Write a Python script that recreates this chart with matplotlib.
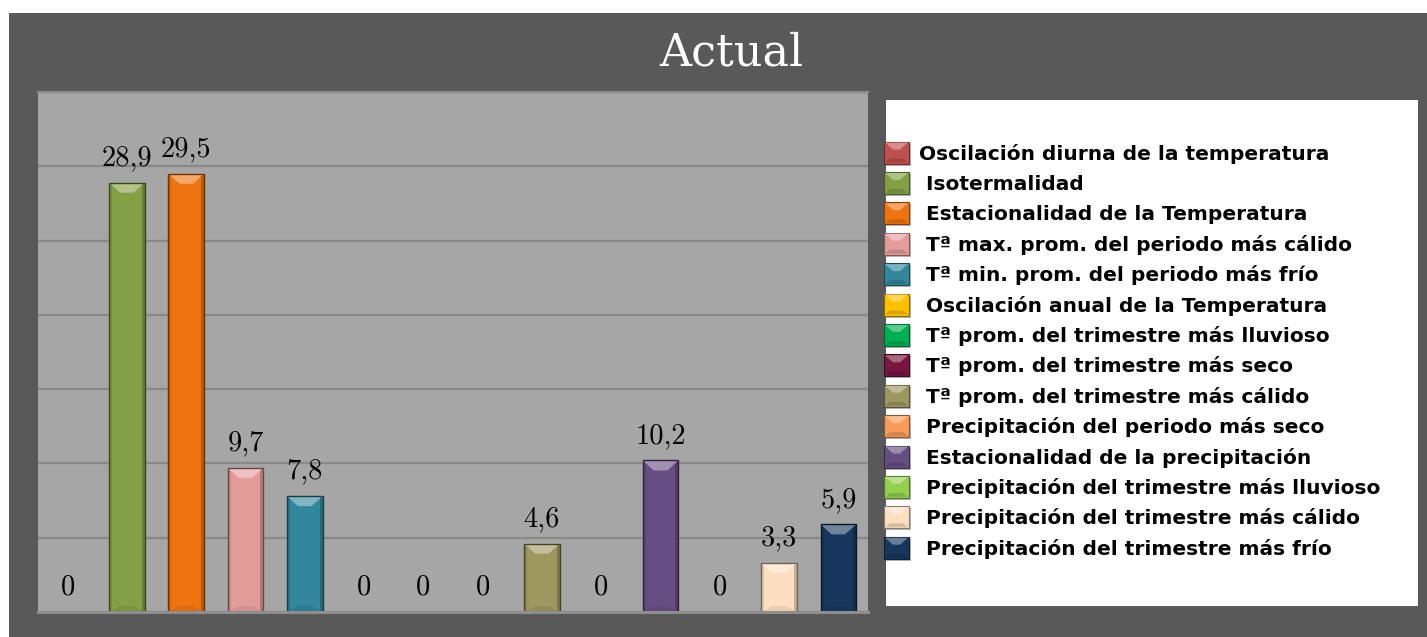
import matplotlib
matplotlib.use("Agg")
import matplotlib.pyplot as plt
import matplotlib.colors as mcolors
from matplotlib.patches import Rectangle, Polygon
import numpy as np

# ---- data -------------------------------------------------------------
labels = [
    "Oscilación diurna de la temperatura",
    " Isotermalidad",
    " Estacionalidad de la Temperatura",
    " Tª max. prom. del periodo más cálido",
    " Tª min. prom. del periodo más frío",
    " Oscilación anual de la Temperatura",
    " Tª prom. del trimestre más lluvioso",
    " Tª prom. del trimestre más seco",
    " Tª prom. del trimestre más cálido",
    " Precipitación del periodo más seco",
    " Estacionalidad de la precipitación",
    " Precipitación del trimestre más lluvioso",
    " Precipitación del trimestre más cálido",
    " Precipitación del trimestre más frío",
]
values = [0, 28.9, 29.5, 9.7, 7.8, 0, 0, 0, 4.6, 0, 10.2, 0, 3.3, 5.9]
colors = [
    "#C0504D", "#83A045", "#EE7411", "#E49C9B", "#33879D", "#FFC000",
    "#00B050", "#77163F", "#9E9760", "#F89A5A", "#674E82", "#92D050",
    "#FCDFC0", "#17375E",
]
title = "Actual"

# ---- helpers ----------------------------------------------------------
W, H = 1427, 637


def mix(c, other, t):
    a = np.array(mcolors.to_rgb(c))
    b = np.array(mcolors.to_rgb(other))
    return tuple(a * (1 - t) + b * t)


def fx(px):
    return px / W


def fy(py_from_top):
    return 1 - py_from_top / H


fig = plt.figure(figsize=(W / 100, H / 100), dpi=100)
fig.patch.set_facecolor("white")
fig.patches.append(Rectangle((fx(9), 0), 1 - fx(9), 1 - 13 / H,
                             transform=fig.transFigure, facecolor="#595959",
                             edgecolor="none", zorder=-2))

# ---- plot area ----------------------------------------------------------
ax = fig.add_axes([fx(38), fy(612), 830 / W, 520 / H])
ax.set_zorder(1)
ax.set_facecolor("#A6A6A6")
ax.set_xlim(-0.5, len(values) - 0.5)
ax.set_ylim(0, 35)
ax.set_yticks(np.arange(0, 36, 5))
ax.set_xticks([])
ax.tick_params(left=False, bottom=False, labelleft=False, labelbottom=False)
ax.yaxis.grid(True, color="#898989", linewidth=1.6)
ax.set_axisbelow(True)
for side in ("left", "right"):
    ax.spines[side].set_visible(False)
ax.spines["top"].set_color("#8A8A8A")
ax.spines["top"].set_linewidth(1.6)
ax.spines["bottom"].set_color("#8E8E8E")
ax.spines["bottom"].set_linewidth(2.2)

x = np.arange(len(values))
bars = ax.bar(x, values, width=0.6, color=colors, edgecolor="none", zorder=2)

# pixel -> data scale, for the bevel shading
sx = ax.transData.transform((1, 0))[0] - ax.transData.transform((0, 0))[0]
sy = ax.transData.transform((0, 1))[1] - ax.transData.transform((0, 0))[1]

for rect, c, v in zip(bars, colors, values):
    if v <= 0:
        continue
    x0, w, h = rect.get_x(), rect.get_width(), rect.get_height()
    d = 10 / sy
    ins = 11 / sx
    side = 3 / sx
    ax.add_patch(Rectangle((x0, 0), side, h, facecolor=mix(c, "black", 0.12),
                           edgecolor="none", zorder=2.1))
    ax.add_patch(Rectangle((x0 + w - side, 0), side, h,
                           facecolor=mix(c, "black", 0.22),
                           edgecolor="none", zorder=2.1))
    ax.add_patch(Polygon([(x0, 0), (x0 + w, 0), (x0 + w - ins, 0.6 * d),
                          (x0 + ins, 0.6 * d)], closed=True,
                         facecolor=mix(c, "black", 0.08), edgecolor="none",
                         zorder=2.15))
    ax.add_patch(Polygon([(x0, h), (x0 + w, h), (x0 + w - ins, h - d),
                          (x0 + ins, h - d)], closed=True,
                         facecolor=mix(c, "white", 0.38), edgecolor="none",
                         zorder=2.2))
    ax.add_patch(Rectangle((x0, 0), w, h, fill=False,
                           edgecolor=mix(c, "black", 0.55), linewidth=1.0,
                           zorder=2.3))

for xi, v in zip(x, values):
    ax.annotate(("%g" % v).replace(".", ","), (xi, v), xytext=(0, 12.5),
                textcoords="offset points", ha="center", va="baseline",
                fontfamily="cmr10", fontsize=20.5, color="black", zorder=3)

# ---- title ------------------------------------------------------------
fig.text(fx(731.5), fy(65), title, ha="center", va="baseline",
         fontfamily="DejaVu Serif", fontsize=32, color="white")

# ---- legend box -------------------------------------------------------
fig.patches.append(Rectangle((fx(886), fy(606)), (1418 - 886) / W,
                             (606 - 100) / H, transform=fig.transFigure,
                             facecolor="white", edgecolor="none", zorder=1))

pitch = 30.4
for i, (lab, c) in enumerate(zip(labels, colors)):
    yc = 152.5 + pitch * i
    bx0, bx1 = 884, 909
    by0, by1 = yc - 11, yc + 11
    # shadow
    fig.patches.append(Rectangle((fx(bx0 + 2), fy(by1 + 2)), 25 / W, 22 / H,
                                 transform=fig.transFigure,
                                 facecolor="#B5B5B5", edgecolor="none",
                                 zorder=2))
    fig.patches.append(Rectangle((fx(bx0), fy(by1)), 25 / W, 22 / H,
                                 transform=fig.transFigure, facecolor=c,
                                 edgecolor=mix(c, "black", 0.45),
                                 linewidth=0.8, zorder=3))
    fig.patches.append(Polygon([(fx(bx0 + 1), fy(by0 + 1)),
                                (fx(bx1 - 1), fy(by0 + 1)),
                                (fx(bx1 - 9), fy(by0 + 8)),
                                (fx(bx0 + 9), fy(by0 + 8))], closed=True,
                               transform=fig.transFigure,
                               facecolor=mix(c, "white", 0.35),
                               edgecolor="none", zorder=4))
    fig.patches.append(Polygon([(fx(bx0 + 1), fy(by1 - 1)),
                                (fx(bx1 - 1), fy(by1 - 1)),
                                (fx(bx1 - 6), fy(by1 - 5)),
                                (fx(bx0 + 6), fy(by1 - 5))], closed=True,
                               transform=fig.transFigure,
                               facecolor=mix(c, "black", 0.15),
                               edgecolor="none", zorder=4))
    fig.text(fx(919), fy(yc + 7), lab, ha="left", va="baseline",
             fontfamily="DejaVu Sans", fontweight="bold", fontsize=14.5,
             color="black", zorder=5)

fig.savefig("out.png", dpi=100, facecolor=fig.get_facecolor())
